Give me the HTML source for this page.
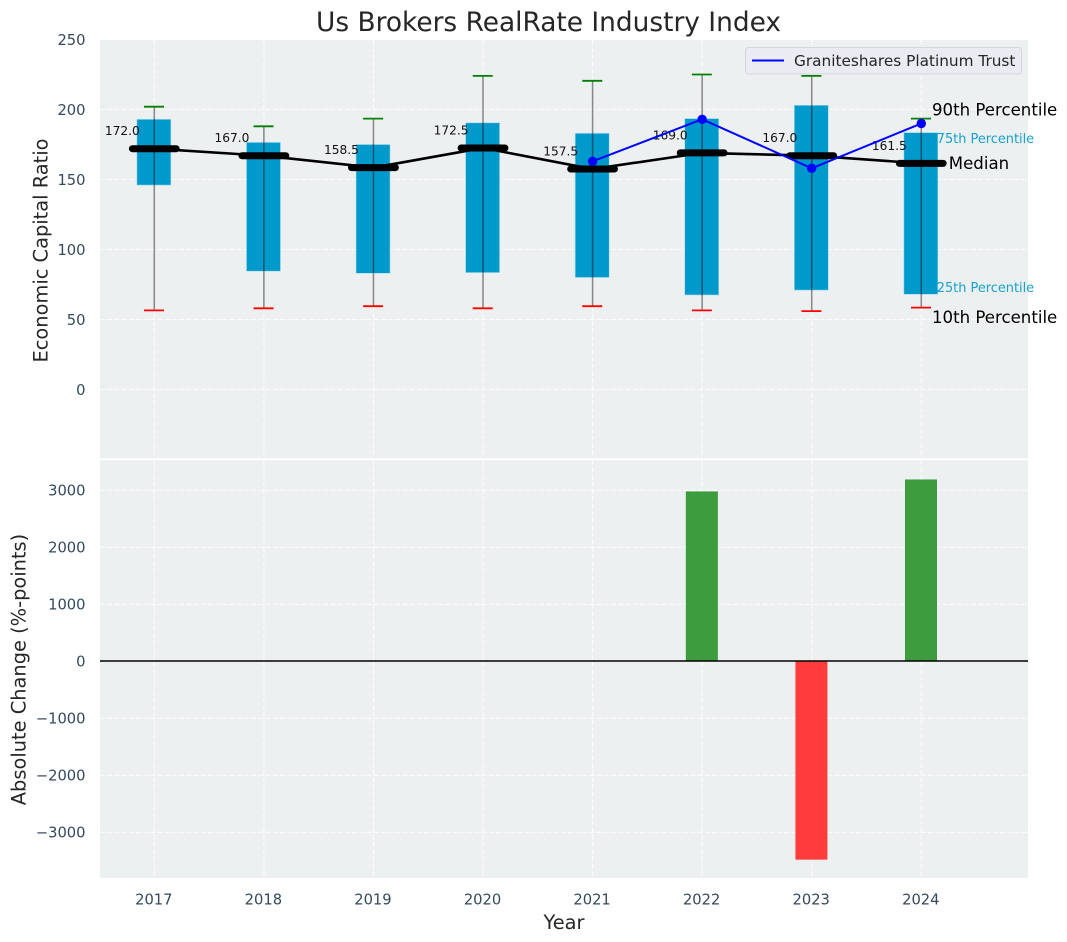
<!DOCTYPE html>
<html>
<head>
<meta charset="utf-8">
<style>
html,body{margin:0;padding:0;background:#fff;}
svg{display:block;font-family:"DejaVu Sans","Liberation Sans",sans-serif;}
</style>
</head>
<body>
<svg id="chart" xmlns="http://www.w3.org/2000/svg" width="1067" height="942" viewBox="0 0 1067 942"></svg>
<script>
const years = [2017, 2018, 2019, 2020, 2021, 2022, 2023, 2024];
const p90 = [202, 188, 193.5, 224, 220.5, 225, 224, 193.5];
const p75 = [193, 176.5, 175, 190.5, 183, 193.5, 203, 183.5];
const medians = [172.0, 167.0, 158.5, 172.5, 157.5, 169.0, 167.0, 161.5];
const p25 = [146, 84.5, 83, 83.5, 80, 67.5, 71, 68];
const p10 = [56.5, 58, 59.5, 58, 59.5, 56.5, 56, 58.5];
const trustYears = [2021, 2022, 2023, 2024];
const trustValues = [163, 193, 158, 190];
const changeYears = [2022, 2023, 2024];
const changeValues = [2980, -3480, 3190];
const topTicks = [0, 50, 100, 150, 200, 250];
const bottomTicks = [-3000, -2000, -1000, 0, 1000, 2000, 3000];

const svg = document.getElementById('chart');
const NS = 'http://www.w3.org/2000/svg';
const xScale = v => 154.3 + (v - 2017) * 109.57;
const yTop = v => 389.5 - v * 1.4;
const yBottom = v => 661.3 - v * 0.057;
const LEFT = 100, RIGHT = 1028, TOP1 = 40, BOT1 = 458.3, TOP2 = 460.3, BOT2 = 878;

function make(tag, attrs, text) {
  const el = document.createElementNS(NS, tag);
  for (const k in attrs) el.setAttribute(k, attrs[k]);
  if (text !== undefined) el.textContent = text;
  svg.appendChild(el);
  return el;
}
function fmtTick(v) { return v < 0 ? '\u2212' + Math.abs(v) : String(v); }

let el;
el = make('rect', {x: LEFT, y: TOP1, width: RIGHT - LEFT, height: BOT1 - TOP1, fill: '#ecf0f1'});


el = make('rect', {x: LEFT, y: TOP2, width: RIGHT - LEFT, height: BOT2 - TOP2, fill: '#ecf0f1'});



const gridStyle = {stroke: '#fff', 'stroke-width': 1.1, 'stroke-dasharray': '5 2.2', opacity: 0.85};
topTicks.forEach(t => {
  el = make('line', Object.assign({x1: LEFT, x2: RIGHT, y1: yTop(t), y2: yTop(t)}, gridStyle));
  
  
  el = make('text', {x: 85.5, y: yTop(t) + 5.5, 'text-anchor': 'end', 'font-size': 14.7, fill: '#34495e'}, fmtTick(t));
  
  
});
bottomTicks.forEach(t => {
  el = make('line', Object.assign({x1: LEFT, x2: RIGHT, y1: yBottom(t), y2: yBottom(t)}, gridStyle));
  
  
  el = make('text', {x: 85.5, y: yBottom(t) + 5, 'text-anchor': 'end', 'font-size': 14.7, fill: '#34495e'}, fmtTick(t));
  
  
});
years.forEach(y => {
  el = make('line', Object.assign({x1: xScale(y), x2: xScale(y), y1: TOP1, y2: BOT1}, gridStyle));
  
  
  el = make('line', Object.assign({x1: xScale(y), x2: xScale(y), y1: TOP2, y2: BOT2}, gridStyle));
  
  
  el = make('text', {x: xScale(y) - 0.5, y: 904.5, 'text-anchor': 'middle', 'font-size': 14.7, fill: '#34495e'}, String(y));
  
  
});

/* Boxes, whiskers and caps */
years.forEach((y, i) => {
  const cx = xScale(y) - 0.4;
  el = make('rect', {x: cx - 17, y: yTop(p75[i]), width: 34, height: yTop(p25[i]) - yTop(p75[i]), fill: '#0099cc', stroke: '#a8dcec', 'stroke-width': 0.6});
  
  
  el = make('line', {x1: xScale(y), x2: xScale(y), y1: Math.max(yTop(p90[i]), TOP1), y2: yTop(p10[i]), stroke: '#000', 'stroke-opacity': 0.45, 'stroke-width': 1.5});
  
  
  el = make('line', {x1: xScale(y) - 10.3, x2: xScale(y) + 9.7, y1: yTop(p90[i]), y2: yTop(p90[i]), stroke: '#008000', 'stroke-width': 1.8});
  
  
  el = make('line', {x1: xScale(y) - 10.3, x2: xScale(y) + 9.7, y1: yTop(p10[i]), y2: yTop(p10[i]), stroke: '#ff0000', 'stroke-width': 1.8});
  
  
});

/* Median trend */
el = make('polyline', {points: years.map((y, i) => xScale(y) + ',' + yTop(medians[i])).join(' '), fill: 'none', stroke: '#000', 'stroke-width': 2.6});


years.forEach((y, i) => {
  el = make('line', {x1: xScale(y) - 21.9, x2: xScale(y) + 21.9, y1: yTop(medians[i]), y2: yTop(medians[i]), stroke: '#000', 'stroke-width': 7, 'stroke-linecap': 'round'});
  
  
  el = make('text', {x: xScale(y) - 14.5, y: yTop(medians[i]) - 13.5, 'text-anchor': 'end', 'font-size': 12.2, fill: '#111'}, medians[i].toFixed(1));
  
  
});

/* Trust series */
el = make('polyline', {points: trustYears.map((y, i) => xScale(y) + ',' + yTop(trustValues[i])).join(' '), fill: 'none', stroke: '#0000ff', 'stroke-width': 2});


trustYears.forEach((y, i) => {
  el = make('circle', {cx: xScale(y), cy: yTop(trustValues[i]), r: 4.7, fill: '#0000ff'});
  
  
});

/* Percentile annotations, placed from the last year's values */
const last = years.length - 1;
const lastX = xScale(years[last]);
el = make('text', {x: lastX + 10.7, y: yTop(p90[last]) - 3, 'font-size': 16.6, fill: '#000'}, '90th Percentile');


el = make('text', {x: lastX + 15.5, y: yTop(p75[last]) + 10.5, 'font-size': 12.9, fill: '#0099cc', opacity: 0.9}, '75th Percentile');


el = make('text', {x: lastX + 27.5, y: yTop(medians[last]) + 5.5, 'font-size': 16.6, fill: '#000'}, 'Median');


el = make('text', {x: lastX + 15.5, y: yTop(p25[last]) - 2.5, 'font-size': 12.9, fill: '#0099cc', opacity: 0.9}, '25th Percentile');


el = make('text', {x: lastX + 10.7, y: yTop(p10[last]) + 15.5, 'font-size': 16.6, fill: '#000'}, '10th Percentile');



/* Change bars */
changeYears.forEach((y, i) => {
  const v = changeValues[i];
  const y0 = yBottom(Math.max(v, 0));
  const y1 = yBottom(Math.min(v, 0));
  el = make('rect', {x: xScale(y) - 16.3, y: y0, width: 32, height: y1 - y0, fill: v >= 0 ? '#3c9c3e' : '#ff3c3c'});
  
  
});
el = make('line', {x1: LEFT, x2: RIGHT, y1: 661, y2: 661, stroke: '#000', 'stroke-width': 1.4});



/* Legend */
el = make('rect', {x: 745.5, y: 47.5, width: 276, height: 26.5, rx: 3, fill: '#eaeaf2', 'fill-opacity': 0.95, stroke: '#d5d5dc', 'stroke-width': 1});


el = make('line', {x1: 752, x2: 784, y1: 60.5, y2: 60.5, stroke: '#0000ff', 'stroke-width': 2});


el = make('text', {x: 794, y: 66, 'font-size': 15.3, fill: '#262626'}, 'Graniteshares Platinum Trust');



/* Titles */
el = make('text', {x: 548.5, y: 31, 'text-anchor': 'middle', 'font-size': 26.4, fill: '#262626'}, 'Us Brokers RealRate Industry Index');


el = make('text', {x: 564, y: 929, 'text-anchor': 'middle', 'font-size': 19.4, fill: '#262626'}, 'Year');


el = make('text', {transform: 'translate(47.5,250.5) rotate(-90)', 'text-anchor': 'middle', 'font-size': 19.4, fill: '#262626'}, 'Economic Capital Ratio');


el = make('text', {transform: 'translate(25.5,669.5) rotate(-90)', 'text-anchor': 'middle', 'font-size': 19.4, fill: '#262626'}, 'Absolute Change (%-points)');


</script>
</body>
</html>
